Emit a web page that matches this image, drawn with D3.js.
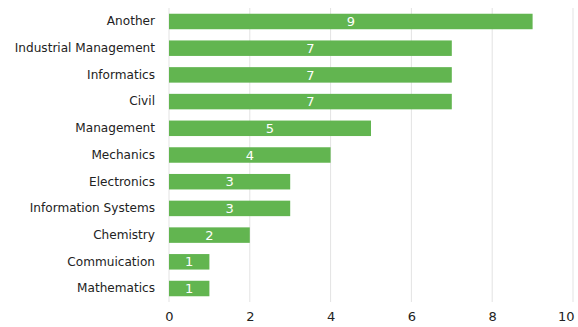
<!DOCTYPE html>
<html><head><meta charset="utf-8">
<script src="https://cdn.jsdelivr.net/npm/d3@7"></script>
<style>body{margin:0;background:#fff}svg{display:block}</style>
</head><body>
<script>
const categories = ["Another","Industrial Management","Informatics","Civil","Management","Mechanics","Electronics","Information Systems","Chemistry","Commuication","Mathematics"];
const values = [9,7,7,7,5,4,3,3,2,1,1];
const xTicks = [0,2,4,6,8,10];

const W = 578, H = 327;
const svg = d3.select("body").append("svg").attr("width", W).attr("height", H);
const x = d3.scaleLinear().domain([0,10]).range([169, 573]);
const y = d3.scaleBand().domain(categories).range([8, 302]).paddingInner(0.42).paddingOuter(0.215);
const font = "DejaVu Sans, sans-serif";

svg.append("g").selectAll("line").data(xTicks).join("line")
  .attr("x1", d => x(d)).attr("x2", d => x(d))
  .attr("y1", 8).attr("y2", 302)
  .attr("stroke", "#e3e3e3").attr("stroke-width", 1);

svg.append("g").selectAll("rect").data(values).join("rect")
  .attr("x", x(0)).attr("y", (d,i) => y(categories[i]))
  .attr("width", d => x(d) - x(0)).attr("height", y.bandwidth())
  .attr("fill", "#62b550");

svg.append("g").selectAll("text").data(values).join("text")
  .attr("x", d => (x(d) + x(0)) / 2)
  .attr("y", (d,i) => y(categories[i]) + y.bandwidth()/2)
  .attr("dy", "0.36em").attr("text-anchor", "middle")
  .attr("fill", "#ffffff").attr("font-family", font).attr("font-size", 13)
  .text(d => d);

const yAxis = d3.axisLeft(y).tickSize(0).tickPadding(14);
const gy = svg.append("g").attr("transform", `translate(${x(0)},0)`).call(yAxis);
gy.select(".domain").remove();
gy.selectAll("text").attr("font-family", font).attr("font-size", 12.1).attr("fill", "#222");

const xAxis = d3.axisBottom(x).tickValues(xTicks).tickSize(0).tickPadding(10).tickFormat(d3.format("d"));
const gx = svg.append("g").attr("transform", `translate(0,302)`).call(xAxis);
gx.select(".domain").remove();
gx.selectAll("text").attr("font-family", font).attr("font-size", 13).attr("fill", "#222");
// keep the last tick label inside the canvas, as in the reference
gx.selectAll(".tick").filter(d => d === 10).select("text").attr("text-anchor", "end").attr("x", 1);
</script>
</body></html>
